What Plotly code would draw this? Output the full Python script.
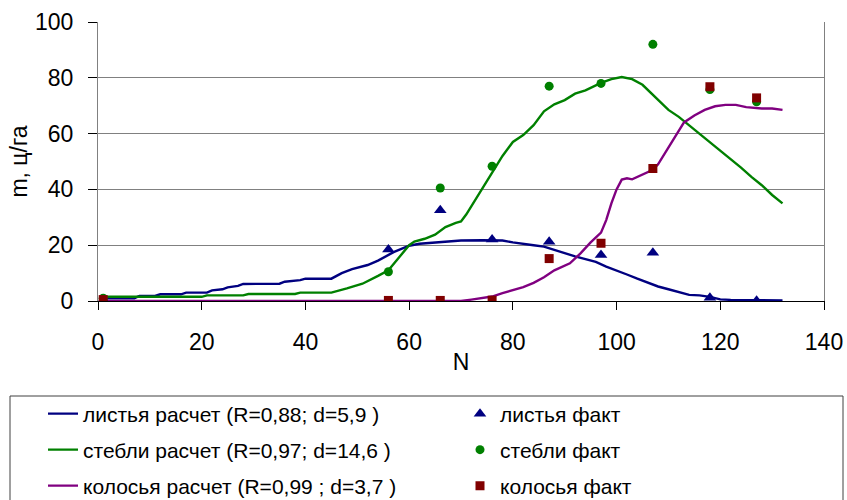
import plotly.graph_objects as go

# Calculated dry biomass (m, c/ha) versus day number N
n_leaves_calc = [1, 7, 8, 11, 12, 16, 17, 21, 22, 24, 25, 27, 28, 35, 36, 39, 40, 45, 47, 49,
                 52, 54, 57, 60, 62, 66, 70, 74, 78, 80, 82, 84, 86, 88, 90, 92, 94, 96, 98,
                 100, 102, 104, 106, 108, 110, 112, 114, 116, 118, 120, 122, 126, 132]
m_leaves_calc = [1.0, 1.0, 1.8, 1.8, 2.4, 2.4, 3.0, 3.0, 3.8, 4.2, 4.9, 5.4, 6.1, 6.2, 6.9, 7.5,
                 8.0, 8.0, 10.0, 11.4, 12.9, 14.5, 17.5, 19.8, 20.5, 21.0, 21.7, 21.8, 21.7,
                 21.0, 20.6, 20.0, 19.5, 18.3, 17.2, 16.0, 15.0, 14.0, 12.3, 11.0, 9.5, 8.0,
                 6.5, 5.2, 4.2, 3.2, 2.2, 2.0, 1.5, 0.6, 0.4, 0.3, 0.2]

n_stems_calc = [1, 20, 21, 28, 29, 38, 39, 45, 48, 51, 54, 56, 58, 60, 61, 63, 65, 67, 69, 70,
                71, 72, 74, 76, 78, 80, 82, 84, 86, 88, 90, 92, 94, 97, 99, 101, 103, 105,
                108, 110, 112, 114, 116, 118, 120, 122, 124, 126, 128, 130, 132]
m_stems_calc = [1.5, 1.5, 2.0, 2.0, 2.5, 2.5, 3.0, 3.0, 4.5, 6.2, 9.0, 11.0, 15.5, 20.0, 21.3,
                22.3, 23.8, 26.5, 28.0, 28.5, 31.0, 34.0, 39.5, 46.0, 52.0, 57.0, 59.5, 63.0,
                68.0, 70.5, 72.0, 74.3, 75.5, 78.2, 79.5, 80.3, 79.5, 77.5, 72.0, 68.5, 66.0,
                63.0, 60.0, 56.8, 54.0, 51.0, 47.8, 44.5, 41.5, 38.0, 35.0]

n_ears_calc = [1, 70, 72, 74, 76, 78, 80, 82, 84, 86, 88, 90, 91, 93, 95, 97, 98, 99, 100, 101,
               102, 103, 105, 107, 108, 109, 111, 113, 115, 117, 119, 121, 123, 125, 128, 130, 132]
m_ears_calc = [0.0, 0.0, 0.5, 1.0, 1.6, 2.8, 3.8, 5.0, 6.5, 8.5, 11.0, 12.8, 13.5, 17.0, 21.0,
               24.5, 29.0, 35.0, 40.0, 43.5, 44.0, 43.6, 45.2, 47.0, 49.0, 52.0, 58.0, 64.0,
               66.5, 68.5, 69.8, 70.3, 70.3, 69.5, 69.0, 69.0, 68.5]

# Field measurements
n_fact = [1, 56, 66, 76, 87, 97, 107, 118, 127]
leaves_fact = [0.3, 18.5, 32.5, 22.0, 21.2, 16.5, 17.3, 1.2, 0.1]
stems_fact = [1.0, 10.5, 40.5, 48.3, 77.0, 78.0, 92.0, 75.8, 71.4]
ears_fact = [0.5, 0.2, 0.2, 0.3, 15.2, 20.7, 47.5, 76.8, 72.8]

x_ticks = [0, 20, 40, 60, 80, 100, 120, 140]
y_ticks = [0, 20, 40, 60, 80, 100]

labels_calc = ["листья расчет (R=0,88; d=5,9 )",
               "стебли расчет (R=0,97; d=14,6 )",
               "колосья расчет (R=0,99 ; d=3,7 )"]
labels_fact = ["листья факт", "стебли факт", "колосья факт"]

NAVY, GREEN, PURPLE, MAROON = "#000080", "#008000", "#800080", "#800000"
FONT = "Liberation Sans, Arial, sans-serif"

fig = go.Figure()

calc = [(n_leaves_calc, m_leaves_calc, NAVY),
        (n_stems_calc, m_stems_calc, GREEN),
        (n_ears_calc, m_ears_calc, PURPLE)]
facts = [(leaves_fact, NAVY, "triangle-up", 11),
         (stems_fact, GREEN, "circle", 9),
         (ears_fact, MAROON, "square", 9)]

legend_ids_calc = ["legend", "legend3", "legend5"]
legend_ids_fact = ["legend2", "legend4", "legend6"]

for (xs, ys, col), name, lid in zip(calc, labels_calc, legend_ids_calc):
    fig.add_trace(go.Scatter(x=xs, y=ys, mode="lines", name=name, legend=lid,
                             line=dict(color=col, width=2.4)))

for (ys, col, sym, sz), name, lid in zip(facts, labels_fact, legend_ids_fact):
    fig.add_trace(go.Scatter(x=n_fact, y=ys, mode="markers", name=name, legend=lid,
                             marker=dict(color=col, symbol=sym, size=sz,
                                         line=dict(width=0))))

# Plot area spans 98..824 px horizontally and 22..301 px vertically
L, R, T, B = 98, 23, 22, 199
W, H = 847, 500
pw, ph = W - L - R, H - T - B


def px_x(p):
    return (p - L) / pw


def px_y(p):
    return (H - B - p) / ph


row_y = [414, 450, 486]
col_x = [43, 460]
legend_font = dict(family=FONT, size=21, color="black")
legends = {}
for i, y in enumerate(row_y):
    for j, x in enumerate(col_x):
        key = ["legend", "legend2", "legend3", "legend4", "legend5", "legend6"][i * 2 + j]
        legends[key] = dict(x=px_x(x), y=px_y(y), xanchor="left", yanchor="middle",
                            orientation="h", font=legend_font, bgcolor="rgba(0,0,0,0)",
                            borderwidth=0, itemsizing="trace")

fig.update_layout(
    width=W, height=H,
    margin=dict(l=L, r=R, t=T, b=B, autoexpand=False),
    paper_bgcolor="white", plot_bgcolor="white",
    font=dict(family=FONT, size=22, color="black"),
    showlegend=True,
    xaxis=dict(range=[0, 140], tickvals=x_ticks, ticks="outside", ticklen=8,
               tickcolor="black", showline=True, linecolor="black", linewidth=1,
               showgrid=False, zeroline=False, ticklabelstandoff=12,
               tickfont=dict(size=23),
               title=dict(text="N", font=dict(size=23), standoff=0)),
    yaxis=dict(range=[0, 100], tickvals=y_ticks, ticks="outside", ticklen=9,
               tickcolor="black", showline=True, linecolor="#808080", linewidth=1,
               mirror=True, showgrid=True, gridcolor="#808080", gridwidth=1,
               zeroline=False, ticklabelstandoff=10, tickfont=dict(size=23),
               title=dict(text="m, ц/га", font=dict(size=23), standoff=0)),
    shapes=[dict(type="rect", xref="paper", yref="paper",
                 x0=px_x(10), x1=px_x(843), y0=px_y(396), y1=px_y(530),
                 line=dict(color="#404040", width=1), fillcolor="rgba(0,0,0,0)")],
    **legends,
)

fig.write_html("out.html")
